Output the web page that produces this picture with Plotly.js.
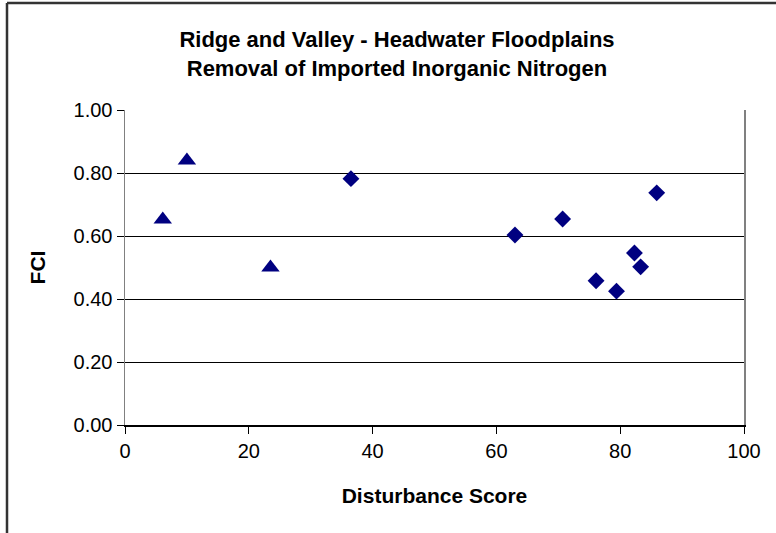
<!DOCTYPE html>
<html>
<head>
<meta charset="utf-8">
<script src="https://cdn.plot.ly/plotly-3.0.1.min.js"></script>
<style>html,body{margin:0;padding:0;background:#fff;}#chart{width:776px;height:533px;}</style>
</head>
<body>
<div id="chart"></div>
<script>
// Reference sites (triangles)
const refX = [6.1, 10.0, 23.5];
const refY = [0.652, 0.840, 0.500];
// Other sites (diamonds)
const siteX = [36.5, 63.0, 70.7, 76.1, 79.4, 82.3, 83.3, 85.9];
const siteY = [0.782, 0.603, 0.654, 0.458, 0.425, 0.546, 0.502, 0.737];
const yTicks = [0, 0.2, 0.4, 0.6, 0.8, 1.0];
const yTickText = ["0.00", "0.20", "0.40", "0.60", "0.80", "1.00"];
const xTicks = [0, 20, 40, 60, 80, 100];

const FONT = "Liberation Sans, Arial, sans-serif";
const navy = "#000080";

const traces = [
  {x: refX, y: refY, type: "scatter", mode: "markers", name: "Reference",
   marker: {symbol: "triangle-up", size: 16, color: navy}},
  {x: siteX, y: siteY, type: "scatter", mode: "markers", name: "Sites",
   marker: {symbol: "diamond", size: 13, color: navy}}
];

const L = 125, R = 32, T = 110, B = 108, W = 776, H = 533;
const pw = W - L - R, ph = H - T - B;

const layout = {
  width: W, height: H,
  margin: {l: L, r: R, t: T, b: B, pad: 0},
  paper_bgcolor: "#fff", plot_bgcolor: "#fff",
  showlegend: false,
  font: {family: FONT, color: "#000", size: 20},
  title: {
    text: "Ridge and Valley - Headwater Floodplains<br>Removal of Imported Inorganic Nitrogen",
    font: {family: FONT, size: 22, weight: "bold", color: "#000"},
    x: (397 - L) / pw, xref: "paper", xanchor: "center",
    y: 1 - 47 / H, yref: "container", yanchor: "middle"
  },
  xaxis: {
    range: [0, 100], tickvals: xTicks, ticktext: xTicks.map(String),
    showgrid: false, zeroline: false,
    showline: true, linecolor: "#000", linewidth: 1.5,
    ticks: "outside", ticklen: 7, tickcolor: "#000", tickwidth: 1,
    tickfont: {family: FONT, size: 20, color: "#000"},
    title: {text: "Disturbance Score", standoff: 28,
            font: {family: FONT, size: 21, weight: "bold", color: "#000"}},
    automargin: false, fixedrange: true
  },
  yaxis: {
    range: [0, 1], tickvals: yTicks, ticktext: yTickText,
    showgrid: true, gridcolor: "#000", gridwidth: 1, zeroline: false,
    showline: true, linecolor: "#808080", linewidth: 1.5, mirror: true,
    ticks: "outside", ticklen: 7, tickcolor: "#000", tickwidth: 1,
    tickfont: {family: FONT, size: 20, color: "#000"},
    title: {text: "FCI", standoff: 22,
            font: {family: FONT, size: 21, weight: "bold", color: "#000"}},
    automargin: false, fixedrange: true
  },
  shapes: [
    {type: "line", xref: "paper", yref: "paper",
     x0: (7 - L) / pw, x1: (800 - L) / pw, y0: (H - B - 3) / ph, y1: (H - B - 3) / ph,
     line: {color: "#333", width: 2.5}},
    {type: "line", xref: "paper", yref: "paper",
     x0: (7 - L) / pw, x1: (7 - L) / pw, y0: (H - B - 3) / ph, y1: (H - B - 560) / ph,
     line: {color: "#333", width: 2.5}}
  ]
};

Plotly.newPlot("chart", traces, layout, {displayModeBar: false, staticPlot: true});
</script>
</body>
</html>
